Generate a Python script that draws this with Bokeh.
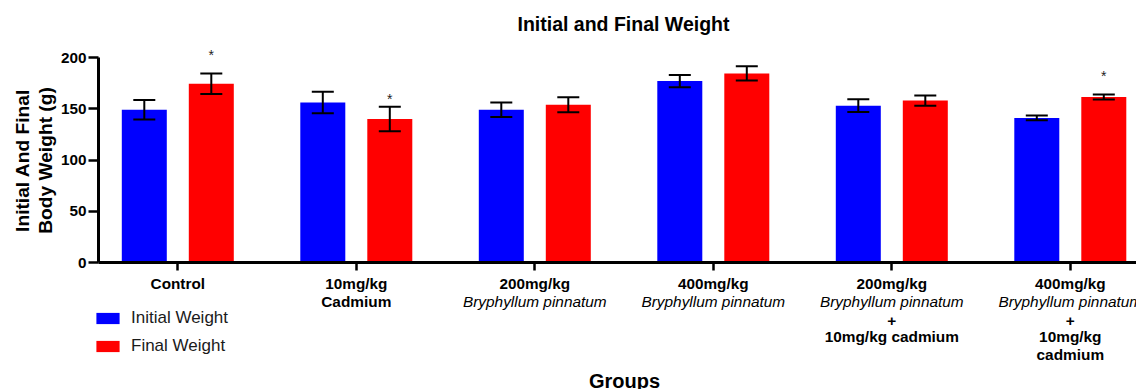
import math
from bokeh.plotting import figure
from bokeh.models import (ColumnDataSource, Whisker, TeeHead, Legend, LegendItem,
                          FixedTicker, Range1d)
from bokeh.core.properties import value
from bokeh.embed import file_html
from bokeh.resources import INLINE

# ---------------- data ----------------
groups = ["Control", "10mg/kg Cadmium", "200mg/kg Bryphyllum pinnatum",
          "400mg/kg Bryphyllum pinnatum",
          "200mg/kg Bryphyllum pinnatum + 10mg/kg cadmium",
          "400mg/kg Bryphyllum pinnatum + 10mg/kg cadmium"]
initial_weight = [149, 156, 149, 177, 153, 141]
initial_err = [9.5, 10.5, 7, 6, 6.2, 2.3]
final_weight = [174.5, 140, 154, 184.5, 158, 161.5]
final_err = [10, 12, 7.3, 7, 5, 2.5]
star_text = ["*", "*", "", "", "", "*"]
star_value = [202, 160, 0, 0, 0, 182]
y_ticks = [0, 50, 100, 150, 200]
tick_line1 = ["Control", "10mg/kg", "200mg/kg", "400mg/kg", "200mg/kg", "400mg/kg"]
# further tick label lines: (text, style) per line index 1..4
tick_more = [
    [],
    [("Cadmium", "bold")],
    [("Bryphyllum pinnatum", "italic")],
    [("Bryphyllum pinnatum", "italic")],
    [("Bryphyllum pinnatum", "italic"), ("+", "bold"), ("10mg/kg cadmium", "bold")],
    [("Bryphyllum pinnatum", "italic"), ("+", "bold"), ("10mg/kg", "bold"),
     ("cadmium", "bold")],
]
title_text = "Initial and Final Weight"
ylabel_lines = ["Initial And Final", "Body Weight (g)"]
xlabel_text = "Groups"
legend_labels = ["Initial Weight", "Final Weight"]

# ---------------- layout helpers (pixel -> data) ----------------
W, H = 1136, 389
FRAME_LEFT_PX, AXIS_BOTTOM_PX = 98, 262
GROUP1_PX, PX_PER_GROUP = 177.3, 178.5
PX_PER_UNIT = 205 / 200.0


def xd(px):
    return 1 + (px - GROUP1_PX) / PX_PER_GROUP


def yd(py):
    return (AXIS_BOTTOM_PX - py) / PX_PER_UNIT


FONT = "Liberation Sans"
off = 33.5 / PX_PER_GROUP
bw = 45 / PX_PER_GROUP
xs = list(range(1, len(groups) + 1))

src_i = ColumnDataSource(dict(
    x=[k - off for k in xs], top=initial_weight,
    upper=[v + e for v, e in zip(initial_weight, initial_err)],
    lower=[v - e for v, e in zip(initial_weight, initial_err)]))
src_f = ColumnDataSource(dict(
    x=[k + off for k in xs], top=final_weight,
    upper=[v + e for v, e in zip(final_weight, final_err)],
    lower=[v - e for v, e in zip(final_weight, final_err)]))
sx, sy, st = [], [], []
for k, t, v in zip(xs, star_text, star_value):
    if t:
        sx.append(k + off); sy.append(v); st.append(t)
src_s = ColumnDataSource(dict(x=sx, y=sy, t=st))

p = figure(width=W, height=H, output_backend="svg", toolbar_location=None,
           x_range=Range1d(xd(0), xd(W)), y_range=Range1d(yd(H), yd(0)),
           min_border_left=0, min_border_right=0, min_border_top=0,
           min_border_bottom=0)
p.outline_line_color = None
p.xgrid.visible = False
p.ygrid.visible = False
p.background_fill_color = "white"
p.border_fill_color = "white"

r1 = p.vbar(x="x", top="top", width=bw, source=src_i, fill_color="#0000FF",
            line_color=None)
r2 = p.vbar(x="x", top="top", width=bw, source=src_f, fill_color="#FF0000",
            line_color=None)

for s in (src_i, src_f):
    p.add_layout(Whisker(base="x", upper="upper", lower="lower", source=s,
                         line_width=2, line_color="black", level="annotation",
                         upper_head=TeeHead(size=22, line_width=2, line_color="black"),
                         lower_head=TeeHead(size=22, line_width=2, line_color="black")))

p.text(x="x", y="y", text="t", source=src_s, text_align="center",
       text_baseline="middle", text_font=value(FONT),
       text_font_size=value("14px"), text_color="#222222")

# axes placed at fixed locations inside the full-canvas frame
yax = p.yaxis[0]
yax.fixed_location = xd(FRAME_LEFT_PX)
yax.bounds = (0, 200)
yax.ticker = FixedTicker(ticks=y_ticks)
yax.minor_tick_line_color = None
yax.major_tick_out = 10
yax.major_tick_in = 0
yax.major_tick_line_width = 2.5
yax.axis_line_width = 3
yax.major_label_text_font = FONT
yax.major_label_text_font_style = "bold"
yax.major_label_text_font_size = "15.3px"
yax.major_label_text_color = "black"
yax.major_label_standoff = 2

xax = p.xaxis[0]
xax.fixed_location = 0
xax.bounds = (xd(FRAME_LEFT_PX), xd(W))
xax.ticker = FixedTicker(ticks=xs)
xax.major_label_overrides = {k: t for k, t in zip(xs, tick_line1)}
xax.minor_tick_line_color = None
xax.major_tick_out = 8
xax.major_tick_in = 0
xax.major_tick_line_width = 2.5
xax.axis_line_width = 3
xax.major_label_text_font = FONT
xax.major_label_text_font_style = "bold"
xax.major_label_text_font_size = "15.3px"
xax.major_label_text_color = "black"
xax.major_label_standoff = 4

# remaining tick-label lines as text glyphs
line_py = [300.5, 320, 335.5, 353.5]
bold = dict(x=[], y=[], t=[])
ital = dict(x=[], y=[], t=[])
for k, lines in zip(xs, tick_more):
    for i, (t, style) in enumerate(lines):
        d = bold if style == "bold" else ital
        d["x"].append(k); d["y"].append(yd(line_py[i])); d["t"].append(t)
for d, style in ((bold, "bold"), (ital, "italic")):
    p.text(x="x", y="y", text="t", source=ColumnDataSource(d), text_align="center",
           text_baseline="middle", text_font=value(FONT),
           text_font_style=value(style), text_font_size=value("15.4px"),
           text_color="black")

# title, axis titles
p.text(x=[xd(623)], y=[yd(23)], text=[title_text], text_align="center",
       text_baseline="middle", text_font=value(FONT), text_font_style=value("bold"),
       text_font_size=value("19.5px"), text_color="black")
p.text(x=[xd(624)], y=[yd(380)], text=[xlabel_text], text_align="center",
       text_baseline="middle", text_font=value(FONT), text_font_style=value("bold"),
       text_font_size=value("20px"), text_color="black")
p.text(x=[xd(22), xd(45)], y=[yd(160), yd(160)], text=ylabel_lines,
       angle=math.pi / 2, text_align="center", text_baseline="middle",
       text_font=value(FONT), text_font_style=value("bold"),
       text_font_size=value("19.2px"), text_color="black")

legend = Legend(items=[LegendItem(label=legend_labels[0], renderers=[r1]),
                       LegendItem(label=legend_labels[1], renderers=[r2])],
                location=(93, H - 356), orientation="vertical", glyph_width=29,
                glyph_height=14, label_standoff=9, spacing=8, padding=0, margin=0,
                border_line_color=None, background_fill_alpha=0,
                label_text_font=FONT, label_text_font_size="17px",
                label_text_color="#1a1a1a", label_height=20,
                label_text_baseline="middle")
p.add_layout(legend)

open("out.html", "w").write(file_html(p, INLINE))
